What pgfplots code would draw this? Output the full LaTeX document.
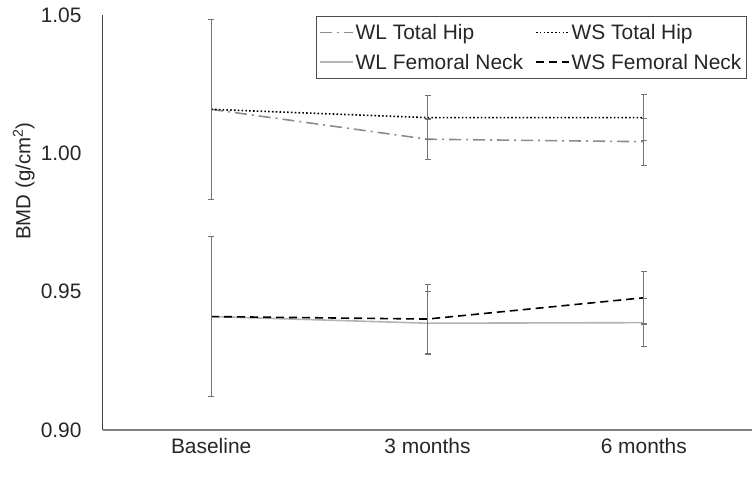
\documentclass[border=0pt]{standalone}
\usepackage{fontspec}
\setmainfont{Liberation Sans}
\usepackage{pgfplots}
\pgfplotsset{compat=1.18}
\definecolor{axgray}{HTML}{808080}
\definecolor{wlhip}{HTML}{8C8C8C}
\definecolor{wlneck}{HTML}{B4B4B4}
\definecolor{errgray}{HTML}{747474}
\begin{document}
\begin{tikzpicture}
\begin{axis}[name=ax, scale only axis, width=649bp, height=415bp,
  xmin=-0.5, xmax=2.5, ymin=0.90, ymax=1.05,
  xtick={0,1,2}, xticklabels={Baseline,3 months,6 months},
  ytick={0.90,0.95,1.00,1.05},
  y tick label style={/pgf/number format/fixed, /pgf/number format/fixed zerofill, /pgf/number format/precision=2},
  /pgf/number format/assume math mode=true,
  major tick length=0pt,
  axis x line*=bottom, axis y line*=left,
  axis line style={-},
  x axis line style={-, draw=axgray, line width=1.6bp},
  y axis line style={-, draw=black!75, line width=1bp},
  tick label style={font=\fontsize{21}{25}\selectfont, text=black!85},
  yticklabel style={xshift=-18bp},
  xticklabel style={yshift=-5bp},
  ylabel={BMD (g/cm\textsuperscript{2})},
  ylabel style={font=\fontsize{20.5}{24}\selectfont, text=black!85, at={(axis description cs:-0.122,0.6)}, anchor=center},
  legend columns=2, legend cell align=left,
  legend style={at={(axis description cs:0.992,0.998)}, anchor=north east,
    draw=black!70, line width=0.8bp, font=\fontsize{21}{25}\selectfont, text=black!85,
    inner xsep=3bp, inner ysep=6bp, row sep=9bp,
    /tikz/every even column/.append style={column sep=10bp}},
  legend image code/.code={\draw[#1] (0bp,0bp) -- (33bp,0bp);},
  error bars/y dir=both, error bars/y explicit,
  error bars/error bar style={errgray, line width=1.3bp, solid},
  error bars/error mark options={rotate=90, mark size=3bp, errgray, line width=1.1bp, solid},
]
\addplot[wlhip, line width=1.6bp, dash pattern=on 12bp off 5bp on 2bp off 5bp, mark=none]
  table[x=x, y=y, y error=e]{
x y e
0 1.0159 0.0325
1 1.0051 0.0073
2 1.0042 0.0085
};
\addlegendentry{WL Total Hip}
\addplot[black, line width=1.6bp, dash pattern=on 1.6bp off 2.2bp, mark=none]
  table[x=x, y=y, y error=e]{
x y e
0 1.0159 0.0325
1 1.0129 0.0080
2 1.0129 0.0083
};
\addlegendentry{WS Total Hip}
\addplot[wlneck, line width=1.6bp, solid, mark=none]
  table[x=x, y=y, y error=e]{
x y e
0 0.9410 0.0290
1 0.9386 0.0113
2 0.9388 0.0087
};
\addlegendentry{WL Femoral Neck}
\addplot[black, line width=1.6bp, dash pattern=on 8bp off 5bp, mark=none]
  table[x=x, y=y, y error=e]{
x y e
0 0.9410 0.0290
1 0.9401 0.0124
2 0.9478 0.0095
};
\addlegendentry{WS Femoral Neck}
\end{axis}
\pgfresetboundingbox
\path[use as bounding box] ([shift={(-103bp,-49bp)}]ax.south west) rectangle ([shift={(4bp,15bp)}]ax.north east);
\end{tikzpicture}
\end{document}
